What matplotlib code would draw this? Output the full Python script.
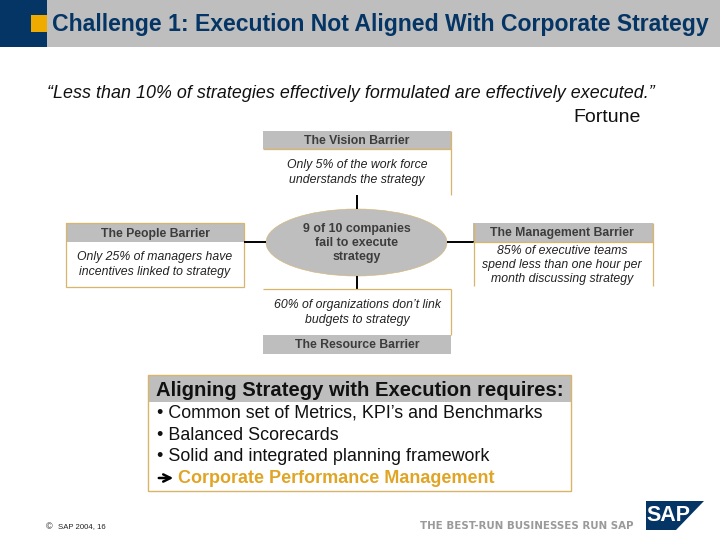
"""SAP slide: Challenge 1, execution not aligned with corporate strategy."""
import matplotlib
matplotlib.use("Agg")
import matplotlib.pyplot as plt
from matplotlib.patches import Rectangle, Ellipse, Polygon

plt.rcParams.update({"font.family": "Liberation Sans"})

NAVY = "#053565"
ORANGE = "#F0AB00"
GREY = "#BEBEBE"
TAN = "#D9B56A"
DARK = "#3C3C3C"

title = "Challenge 1: Execution Not Aligned With Corporate Strategy"
quote = "\u201cLess than 10% of strategies effectively formulated are effectively executed.\u201d"
source = "Fortune"
centre_text = "9 of 10 companies\nfail to execute\nstrategy"
barrier_titles = ["The Vision Barrier", "The People Barrier", "The Management Barrier", "The Resource Barrier"]
barrier_texts = ["Only 5% of the work force\nunderstands the strategy",
                 "Only 25% of managers have\nincentives linked to strategy",
                 "85% of executive teams\nspend less than one hour per\nmonth discussing strategy",
                 "60% of organizations don\u2019t link\nbudgets to strategy"]
box_title = "Aligning Strategy with Execution requires:"
box_items = ["\u2022 Common set of Metrics, KPI\u2019s and Benchmarks",
             "\u2022 Balanced Scorecards",
             "\u2022 Solid and integrated planning framework"]
box_result = "Corporate Performance Management"
footer = "SAP 2004, 16"
tagline = "THE BEST-RUN BUSINESSES RUN SAP"

fig = plt.figure(figsize=(7.2, 5.4), dpi=100)
ax = fig.add_axes([0, 0, 1, 1])
ax.set_xlim(0, 720)
ax.set_ylim(540, 0)
ax.axis("off")


def rect(x0, y0, x1, y1, **kw):
    ax.add_patch(Rectangle((x0, y0), x1 - x0, y1 - y0, **kw))


def line(xs, ys, color=TAN, lw=0.9):
    ax.plot(xs, ys, color=color, lw=lw, solid_capstyle="butt", zorder=3)


def label(x, y, s, italic=False, spacing=1.25):
    ax.text(x, y, s, ha="center", va="center", fontsize=8.8, color="#222222" if italic else DARK,
            style="italic" if italic else "normal", fontweight="normal" if italic else "bold",
            linespacing=spacing)


# header band
rect(0, 0, 720, 47, fc=GREY, ec="none")
rect(0, 0, 47, 47, fc=NAVY, ec="none")
rect(31, 15, 47, 32, fc=ORANGE, ec="none")
ax.text(52, 25, title, color=NAVY, fontsize=16.6, fontweight="bold", va="center")

ax.text(47, 94, quote, fontsize=12.85, style="italic", va="center", color="#111111")
ax.text(573, 117.5, source, fontsize=14, va="center", color="#111111")

# connectors and centre ellipse
line([244, 266], [242, 242], "black", 1.4)
line([447, 474], [242, 242], "black", 1.4)
line([357, 357], [195, 209], "black", 1.4)
line([357, 357], [276, 289], "black", 1.4)
ax.add_patch(Ellipse((356.5, 242.5), 181, 67, fc=GREY, ec=TAN, lw=0.4, zorder=2))
ax.text(356.5, 243, centre_text, ha="center", va="center", fontsize=8.9, fontweight="bold",
        color=DARK, linespacing=1.24, zorder=4)

# vision barrier, open at the bottom
rect(263, 131, 451, 149, fc=GREY, ec="none")
line([263, 451], [149, 149])
line([451, 451], [131, 195])
label(357, 141, barrier_titles[0])
label(357, 172.5, barrier_texts[0], italic=True)

# people barrier
rect(66, 223, 244, 242, fc=GREY, ec="none")
rect(66, 223, 244, 287, fc="none", ec=TAN, lw=0.9)
label(155, 233.5, barrier_titles[1])
label(155, 264.5, barrier_texts[1], italic=True)

# management barrier, open at the bottom
rect(473, 223, 653, 242, fc=GREY, ec="none")
line([473, 653], [242, 242])
line([474, 474], [223, 286])
line([653, 653], [223, 286])
label(562, 233, barrier_titles[2])
label(562, 265, barrier_texts[2], italic=True, spacing=1.18)

# resource barrier
line([263, 451], [289, 289])
line([451, 451], [289, 335])
rect(263, 335, 451, 354, fc=GREY, ec="none")
label(357, 345, barrier_titles[3])
label(357, 312.5, barrier_texts[3], italic=True)

# requirements box
rect(148, 375, 571, 402, fc=GREY, ec="none")
rect(148, 375, 571, 491, fc="none", ec=TAN, lw=1.0)
ax.text(156, 391, box_title, fontsize=14.6, fontweight="bold", va="center", color="#111111")
for y, item in zip([413.5, 435.5, 456.5], box_items):
    ax.text(157, y, item, fontsize=12.9, va="center", color="#111111")
ax.annotate("", xy=(176, 478), xytext=(156, 478),
            arrowprops=dict(arrowstyle="->", color="black", lw=1.8, mutation_scale=13))
ax.text(178, 478.5, box_result, fontsize=13, fontweight="bold", va="center", color="#E0A526")

# footer
ax.text(46, 527, "\u00a9", fontsize=6.5, va="center", color="#222222")
ax.text(58, 527, footer, fontsize=5.6, va="center", color="#222222")
ax.text(420, 526, tagline, fontsize=7.4, fontweight="bold", va="center", color="#9A9A9A", family="DejaVu Sans")
ax.add_patch(Polygon([(646, 501), (704, 501), (676, 530), (646, 530)], fc=NAVY, ec="none"))
ax.text(646, 515.5, "SAP", fontsize=15.5, fontweight="bold", va="center", color="white")

fig.savefig("out.png", dpi=100)
plt.close(fig)
